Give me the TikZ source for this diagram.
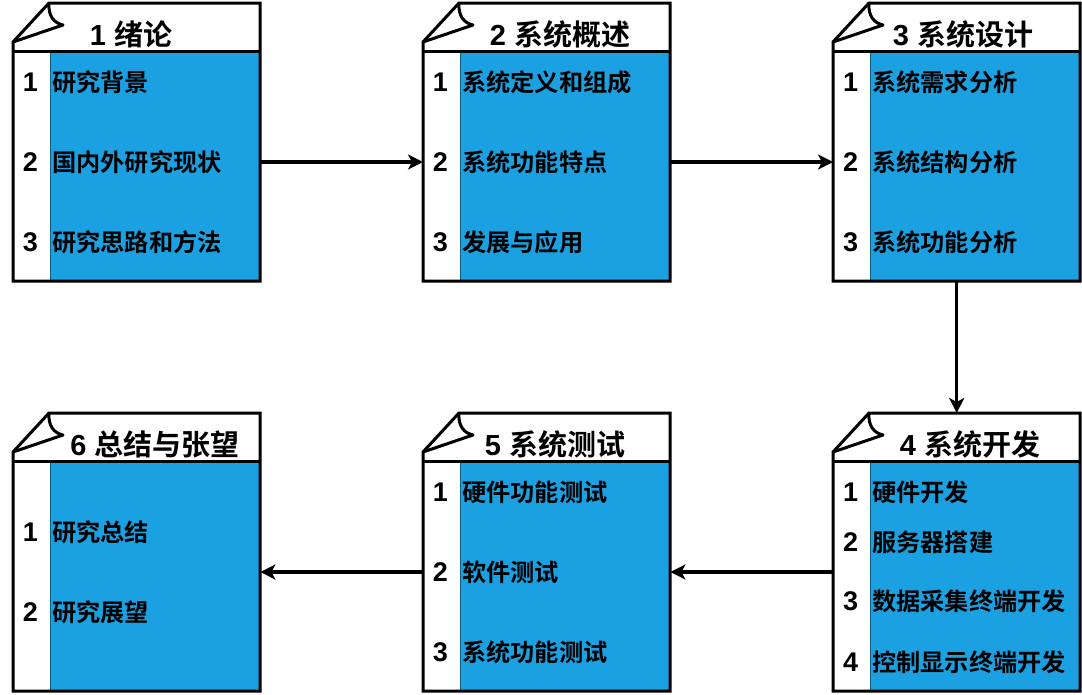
\documentclass[tikz,border=0pt]{standalone}
\usepackage{fontspec}
\setmainfont{Liberation Sans}
\newfontfamily\cjk[BoldFont={Noto Sans CJK SC Bold}]{Noto Sans CJK SC}
\usetikzlibrary{arrows.meta,calc}
\definecolor{boxblue}{HTML}{1BA1E2}
\definecolor{blueedge}{HTML}{0E5F86}
\tikzset{
  frame/.style={line width=3pt, line join=miter},
  head/.style={inner sep=0pt, font=\fontsize{29}{32}\selectfont\bfseries},
  num/.style={inner sep=0pt, font=\fontsize{27}{30}\selectfont\bfseries},
  item/.style={inner sep=0pt, anchor=west, font=\fontsize{24.2}{27}\selectfont\cjk\bfseries},
  arr/.style={line width=3.2pt, -{Stealth[length=15pt,width=15pt,inset=4pt]}},
}
\newcommand\docframe[3]{%
  \begin{scope}[shift={(#2,#3)}]
    \fill[white] (0,39) -- (36,0) -- (247,0) -- (247,278) -- (0,278) -- cycle;
    \fill[boxblue] (37,48) rectangle (247,278);
    \draw[blueedge, line width=1pt] (37,48) rectangle (247,278);
    \draw[frame] (0,48) -- (247,48);
    \draw[frame] (0,39) -- (36,0) -- (247,0) -- (247,278) -- (0,278) -- cycle;
    \draw[frame, line join=round] (36,0) .. controls (35,13) and (41,20) .. (50,22) -- (0,39);
  \end{scope}
  \node[inner sep=0pt, minimum width=247pt, minimum height=278pt, anchor=north west] (#1) at (#2,#3) {};
}
\begin{document}
\begin{tikzpicture}[x=1pt,y=-1pt]
\useasboundingbox (0,0) rectangle (1082,694);

% frames
\docframe{b1}{13}{3}
\docframe{b2}{423}{3}
\docframe{b3}{833}{3}
\docframe{b4}{833}{413}
\docframe{b5}{423}{413}
\docframe{b6}{13}{413}

% box 1
\node[head] (b1h) at (131,34) {1 {\cjk\bfseries 绪论}};
\node[num] (b1n1) at (30.5,82) {1};
\node[item] (b1t1) at (52,82) {研究背景};
\node[num] (b1n2) at (30.5,162) {2};
\node[item] (b1t2) at (52,162) {国内外研究现状};
\node[num] (b1n3) at (30.5,242) {3};
\node[item] (b1t3) at (52,242) {研究思路和方法};

% box 2
\node[head] (b2h) at (560,34) {2 {\cjk\bfseries 系统概述}};
\node[num] (b2n1) at (440.5,82) {1};
\node[item] (b2t1) at (462,82) {系统定义和组成};
\node[num] (b2n2) at (440.5,162) {2};
\node[item] (b2t2) at (462,162) {系统功能特点};
\node[num] (b2n3) at (440.5,242) {3};
\node[item] (b2t3) at (462,242) {发展与应用};

% box 3
\node[head] (b3h) at (963,34) {3 {\cjk\bfseries 系统设计}};
\node[num] (b3n1) at (850.5,82) {1};
\node[item] (b3t1) at (872,82) {系统需求分析};
\node[num] (b3n2) at (850.5,162) {2};
\node[item] (b3t2) at (872,162) {系统结构分析};
\node[num] (b3n3) at (850.5,242) {3};
\node[item] (b3t3) at (872,242) {系统功能分析};

% box 4
\node[head] (b4h) at (970,444) {4 {\cjk\bfseries 系统开发}};
\node[num] (b4n1) at (850.5,492) {1};
\node[item] (b4t1) at (872,492) {硬件开发};
\node[num] (b4n2) at (850.5,542) {2};
\node[item] (b4t2) at (872,542) {服务器搭建};
\node[num] (b4n3) at (850.5,601) {3};
\node[item] (b4t3) at (872,601) {数据采集终端开发};
\node[num] (b4n4) at (850.5,662) {4};
\node[item] (b4t4) at (872,662) {控制显示终端开发};

% box 5
\node[head] (b5h) at (555,444) {5 {\cjk\bfseries 系统测试}};
\node[num] (b5n1) at (440.5,492) {1};
\node[item] (b5t1) at (462,492) {硬件功能测试};
\node[num] (b5n2) at (440.5,572) {2};
\node[item] (b5t2) at (462,572) {软件测试};
\node[num] (b5n3) at (440.5,652) {3};
\node[item] (b5t3) at (462,652) {系统功能测试};

% box 6
\node[head] (b6h) at (155,444) {6 {\cjk\bfseries 总结与张望}};
\node[num] (b6n1) at (30.5,532) {1};
\node[item] (b6t1) at (52,532) {研究总结};
\node[num] (b6n2) at (30.5,612) {2};
\node[item] (b6t2) at (52,612) {研究展望};

% connectors
\draw[arr] (b1.east |- b1t2) -- (b2.west |- b1t2);
\draw[arr] (b2.east |- b2t2) -- (b3.west |- b2t2);
\draw[arr] (b3.south) -- (b4.north);
\draw[arr] (b4.west |- b5t2) -- (b5.east |- b5t2);
\draw[arr] (b5.west |- b5t2) -- (b6.east |- b5t2);
\end{tikzpicture}
\end{document}
